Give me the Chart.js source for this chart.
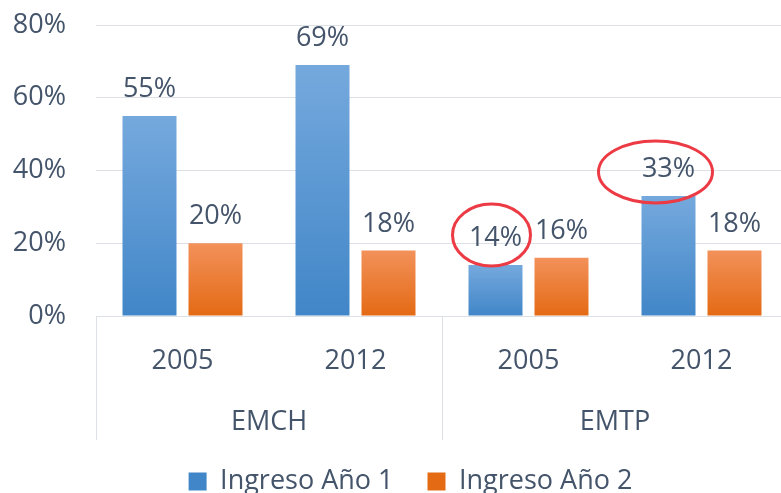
<!DOCTYPE html>
<html>
<head>
<meta charset="utf-8">
<script src="https://cdn.jsdelivr.net/npm/chart.js@4.4.1/dist/chart.umd.min.js"></script>
<style>
    body { margin: 0; overflow: hidden; background: #fff; }
    #wrap { width: 820px; height: 505px; }
</style>
</head>
<body>
<div id="wrap"><canvas id="chart"></canvas></div>
<script>
// values
var years = ["2005", "2012", "2005", "2012"];
var groups = ["EMCH", "EMTP"];
var ingreso_1 = [55, 69, 14, 33];
var ingreso_2 = [20, 18, 16, 18];
var series_names = ["Ingreso Año 1", "Ingreso Año 2"];
var y_ticks = [0, 20, 40, 60, 80];
// bars with a red ring round their label: [dataset, index]
var circled = [[0, 2], [0, 3]];

var text_color = "#44546a";
var grid_color = "#dde1e6";
var font = { family: "'Open Sans', 'Noto Sans', sans-serif", size: 27 };

function barGradient(top, bottom) {
    return function (ctx) {
        var chart = ctx.chart;
        if (!chart.chartArea || ctx.type !== "data") {
            return top;
        }
        var y = chart.scales.y;
        var y0 = y.getPixelForValue(ctx.raw);
        var g = chart.ctx.createLinearGradient(0, y0, 0, y.getPixelForValue(0));
        g.addColorStop(0, top);
        g.addColorStop(1, bottom);
        return g;
    };
}

var labelPlugin = {
    id: "barLabels",
    afterDatasetsDraw: function (chart) {
        var c = chart.ctx;
        c.save();
        c.font = font.size + "px " + font.family;
        c.fillStyle = text_color;
        c.textAlign = "center";
        c.textBaseline = "alphabetic";
        chart.data.datasets.forEach(function (ds, di) {
            chart.getDatasetMeta(di).data.forEach(function (bar, i) {
                c.fillText(ds.data[i] + "%", bar.x, bar.y - 19);
            });
        });
        // red rings
        var rings = [{dx: -4, dy: -30, rx: 39, ry: 31}, {dx: -13, dy: -24, rx: 57, ry: 31}];
        c.strokeStyle = "#ec3b45";
        c.lineWidth = 3;
        circled.forEach(function (pair, k) {
            var bar = chart.getDatasetMeta(pair[0]).data[pair[1]];
            var r = rings[k];
            c.beginPath();
            c.ellipse(bar.x + r.dx, bar.y + r.dy, r.rx, r.ry, 0, 0, Math.PI * 2);
            c.stroke();
        });
        c.restore();
    }
};

var separatorPlugin = {
    id: "groupLines",
    afterDraw: function (chart) {
        var x = chart.scales.x;
        var c = chart.ctx;
        c.save();
        c.strokeStyle = grid_color;
        c.lineWidth = 1;
        for (var i = 0; i <= groups.length; i++) {
            var px = Math.round(x.left + i * x.width / groups.length) + 0.5;
            c.beginPath();
            c.moveTo(px, chart.chartArea.bottom);
            c.lineTo(px, chart.chartArea.bottom + 124);
            c.stroke();
        }
        c.restore();
    }
};

function fixX(height) {
    return function (s) {
        s.height = height;
        s.paddingLeft = 0;
        s.paddingRight = 32;
    };
}

new Chart(document.getElementById("chart"), {
    type: "bar",
    data: {
        labels: years,
        datasets: [
            {
                label: series_names[0],
                data: ingreso_1,
                backgroundColor: barGradient("#75a9dd", "#4186c8"),
                categoryPercentage: 0.763,
                barPercentage: 0.818
            },
            {
                label: series_names[1],
                data: ingreso_2,
                backgroundColor: barGradient("#f2915a", "#e46a14"),
                categoryPercentage: 0.763,
                barPercentage: 0.818
            }
        ]
    },
    options: {
        responsive: true,
        maintainAspectRatio: false,
        animation: false,
        layout: { padding: { top: 25, left: 13, right: 12, bottom: 0 } },
        plugins: {
            legend: {
                position: "bottom",
                labels: {
                    color: text_color,
                    font: font,
                    boxWidth: 18,
                    boxHeight: 18,
                    padding: 34
                }
            },
            tooltip: { enabled: false }
        },
        scales: {
            y: {
                min: y_ticks[0],
                max: y_ticks[y_ticks.length - 1],
                afterBuildTicks: function (s) {
                    s.ticks = y_ticks.map(function (v) { return { value: v }; });
                },
                afterFit: function (s) {
                    s.width = 83;
                    s.paddingTop = 0;
                    s.paddingBottom = 0;
                },
                grid: { color: grid_color, drawTicks: false },
                border: { display: false },
                ticks: {
                    color: text_color,
                    font: font,
                    padding: 30,
                    callback: function (v) { return v + "%"; }
                }
            },
            x: {
                afterFit: fixX(57),
                grid: { display: false },
                border: { display: false },
                ticks: { color: text_color, font: font, padding: 21 }
            },
            x2: {
                type: "category",
                labels: groups,
                position: "bottom",
                offset: true,
                afterFit: fixX(61),
                grid: { display: false },
                border: { display: false },
                ticks: { color: text_color, font: font, padding: 25 }
            }
        }
    },
    plugins: [labelPlugin, separatorPlugin]
});
</script>
</body>
</html>
